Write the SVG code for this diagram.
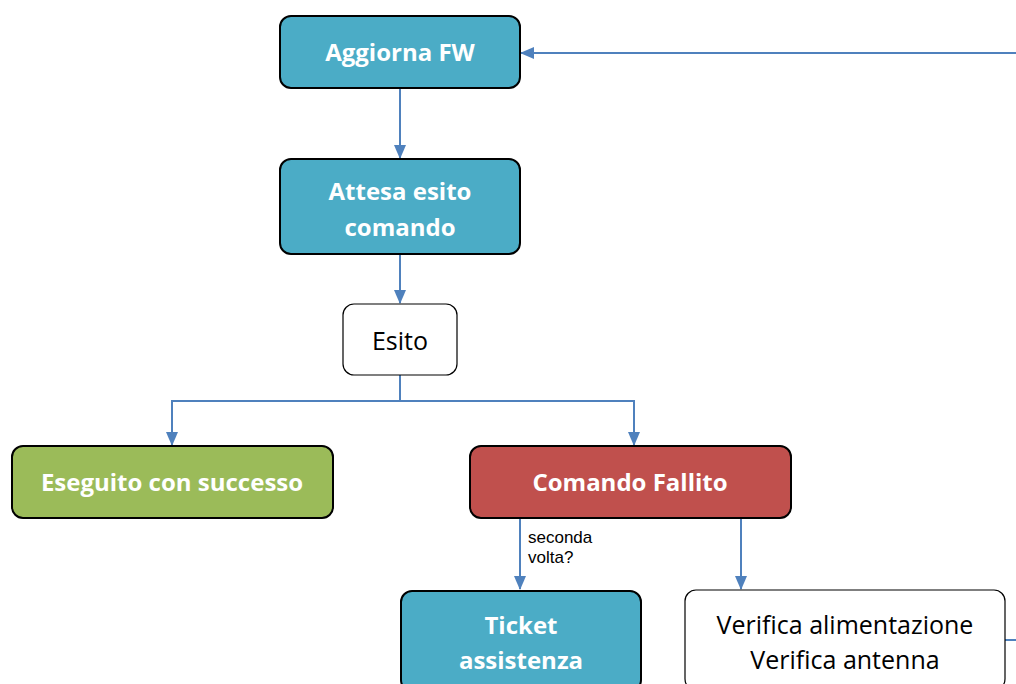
<svg xmlns="http://www.w3.org/2000/svg" width="1016" height="684" viewBox="0 0 1016 684">
<defs>
<marker id="arr" markerWidth="14" markerHeight="14" refX="13" refY="7" orient="auto" markerUnits="userSpaceOnUse">
<path d="M0,1 L14,7 L0,13 Z" fill="#4F81BD"/>
</marker>
<style>
.box{stroke:#000;stroke-width:2}
.teal{fill:#4BACC6}
.green{fill:#9BBB59}
.red{fill:#C0504D}
.white{fill:#fff;stroke-width:1.2}
.bt{font-family:"Open Sans","Liberation Sans",sans-serif;font-weight:bold;font-size:24px;fill:#fff;text-anchor:middle}
.nt{font-family:"Open Sans","Liberation Sans",sans-serif;font-size:25px;fill:#000;text-anchor:middle}
.lt{font-family:"Liberation Sans",sans-serif;font-size:17px;fill:#000}
.c{fill:none;stroke:#4F81BD;stroke-width:2}
</style>
</defs>
<rect width="1016" height="684" fill="#fff"/>
<g id="connectors">
<path class="c" d="M400,88 V158" marker-end="url(#arr)"/>
<path class="c" d="M400,254 V303" marker-end="url(#arr)"/>
<path class="c" d="M400,375 V401 H172 V445" marker-end="url(#arr)"/>
<path class="c" d="M400,401 H634 V445" marker-end="url(#arr)"/>
<path class="c" d="M520,518 V589" marker-end="url(#arr)"/>
<path class="c" d="M741,518 V589" marker-end="url(#arr)"/>
<path class="c" d="M1005,640 H1017 V53 H521" marker-end="url(#arr)"/>
<text class="lt" x="528" y="543">seconda</text>
<text class="lt" x="528" y="563">volta?</text>
</g>
<g id="aggiorna">
<rect class="box teal" x="280" y="16" width="240" height="72" rx="11"/>
<text class="bt" x="400" y="61">Aggiorna FW</text>
</g>
<g id="attesa">
<rect class="box teal" x="280" y="159" width="240" height="95" rx="11"/>
<text class="bt" x="400" y="200">Attesa esito</text>
<text class="bt" x="400" y="236">comando</text>
</g>
<g id="esito">
<rect class="box white" x="343" y="304" width="114" height="71" rx="11"/>
<text class="nt" x="400" y="350">Esito</text>
</g>
<g id="eseguito">
<rect class="box green" x="12" y="446" width="321" height="72" rx="11"/>
<text class="bt" x="172" y="491">Eseguito con successo</text>
</g>
<g id="fallito">
<rect class="box red" x="470" y="446" width="321" height="72" rx="11"/>
<text class="bt" x="630" y="491">Comando Fallito</text>
</g>
<g id="ticket">
<rect class="box teal" x="401" y="591" width="240" height="100" rx="11"/>
<text class="bt" x="521" y="634">Ticket</text>
<text class="bt" x="521" y="669">assistenza</text>
</g>
<g id="verifica">
<rect class="box white" x="685" y="590" width="320" height="100" rx="11"/>
<text class="nt" x="845" y="634">Verifica alimentazione</text>
<text class="nt" x="845" y="669">Verifica antenna</text>
</g>
</svg>
